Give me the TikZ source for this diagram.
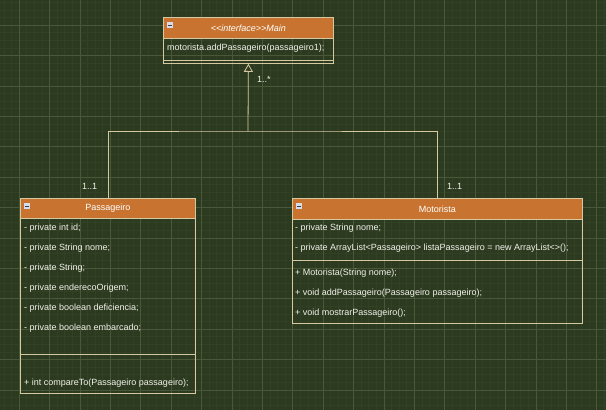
\documentclass[tikz,border=0pt]{standalone}
\usepackage{fontspec}
\setmainfont{Liberation Sans}
\usetikzlibrary{arrows.meta,calc}

\definecolor{canvas}{RGB}{44,58,32}
\definecolor{gridminor}{RGB}{50,64,37}
\definecolor{gridmajor}{RGB}{72,88,57}
\definecolor{umlline}{RGB}{214,200,160}
\definecolor{umlhead}{RGB}{200,116,48}
\definecolor{umltext}{RGB}{242,242,234}
\definecolor{iconfill}{RGB}{214,220,232}
\definecolor{icondark}{RGB}{60,60,80}

\tikzset{
  classbox/.style={draw=umlline, line width=0.8pt, rectangle, inner sep=0pt, anchor=north west},
  headbox/.style={draw=umlline, fill=umlhead, line width=0.8pt, rectangle, inner sep=0pt,
                  anchor=north west, text=white, font=\fontsize{9}{11}\selectfont},
  member/.style={anchor=west, inner sep=0pt, text=umltext, font=\fontsize{9}{11}\selectfont},
  mult/.style={anchor=west, inner sep=0pt, text=umltext, font=\fontsize{9}{11}\selectfont},
  divider/.style={draw=umlline, line width=0.8pt},
  connector/.style={draw=umlline, line width=0.8pt},
}

% small collapse icon in a class header
\newcommand{\collapseicon}[1]{%
  \fill[iconfill] ($(#1.north west)+(4,5)$) rectangle ++(6,6);
  \draw[icondark, line width=0.9pt] ($(#1.north west)+(5.3,8)$) -- ++(3.4,0);
}

\begin{document}
\begin{tikzpicture}[x=1pt, y=-1pt]
  % canvas and grid
  \fill[canvas] (0,0) rectangle (606,410);
  \useasboundingbox (0,0) rectangle (606,410);
  \begin{scope}
    \clip (0,0) rectangle (606,410);
    \foreach \i in {-2,...,77} \draw[gridminor, line width=0.4pt] ({19+7.6*\i},0) -- ({19+7.6*\i},410);
    \foreach \j in {-3,...,52} \draw[gridminor, line width=0.4pt] (0,{25+7.6*\j}) -- (606,{25+7.6*\j});
    \foreach \i in {0,...,19} \draw[gridmajor, line width=0.5pt] ({19+30.4*\i},0) -- ({19+30.4*\i},410);
    \foreach \j in {0,...,12} \draw[gridmajor, line width=0.5pt] (0,{25+30.4*\j}) -- (606,{25+30.4*\j});
  \end{scope}

  % interface Main
  \node[classbox, minimum width=170pt, minimum height=46pt] (main) at (163,17) {};
  \node[headbox, minimum width=170pt, minimum height=21pt] (mainhead) at (163,17)
       {\itshape\textless\kern0pt\textless interface\textgreater\kern0pt\textgreater Main};
  \collapseicon{mainhead}
  \node[member] (mainop) at (167,48) {motorista.addPassageiro(passageiro1);};
  \draw[divider] (163,60) -- (333,60);

  % class Passageiro
  \node[classbox, minimum width=175pt, minimum height=195pt] (pass) at (20,198) {};
  \node[headbox, minimum width=175pt, minimum height=20pt] (passhead) at (20,198) {Passageiro};
  \collapseicon{passhead}
  \node[member] (pa1) at (24,228) {- private int id;};
  \node[member] (pa2) at (24,248) {- private String nome;};
  \node[member] (pa3) at (24,268) {- private String;};
  \node[member] (pa4) at (24,288) {- private enderecoOrigem;};
  \node[member] (pa5) at (24,308) {- private boolean deficiencia;};
  \node[member] (pa6) at (24,328) {- private boolean embarcado;};
  \draw[divider] (20,354) -- (195,354);
  \node[member] (pm1) at (24,383) {+ int compareTo(Passageiro passageiro);};

  % class Motorista
  \node[classbox, minimum width=290pt, minimum height=125pt] (moto) at (292,198) {};
  \node[headbox, minimum width=290pt, minimum height=21pt] (motohead) at (292,198) {Motorista};
  \collapseicon{motohead}
  \node[member] (ma1) at (295,228) {- private String nome;};
  \node[member] (ma2) at (295,248) {- private ArrayList\textless Passageiro\textgreater{} listaPassageiro = new ArrayList\textless\kern0pt\textgreater();};
  \draw[divider] (292,260) -- (582,260);
  \node[member] (mm1) at (295,273) {+ Motorista(String nome);};
  \node[member] (mm2) at (295,293) {+ void addPassageiro(Passageiro passageiro);};
  \node[member] (mm3) at (295,313) {+ void mostrarPassageiro();};

  % realization connectors
  \coordinate (junction) at (248,131);
  \draw[connector] (pass.north) |- (junction) -| (moto.north);
  \draw[connector, -{Triangle[open, length=8pt, width=9pt]}] (junction) -- (main.south);

  % multiplicities
  \node[mult] (m0) at (257,79) {1..*};
  \node[mult] (m1) at (82,186) {1..1};
  \node[mult] (m2) at (447,186) {1..1};
\end{tikzpicture}
\end{document}
